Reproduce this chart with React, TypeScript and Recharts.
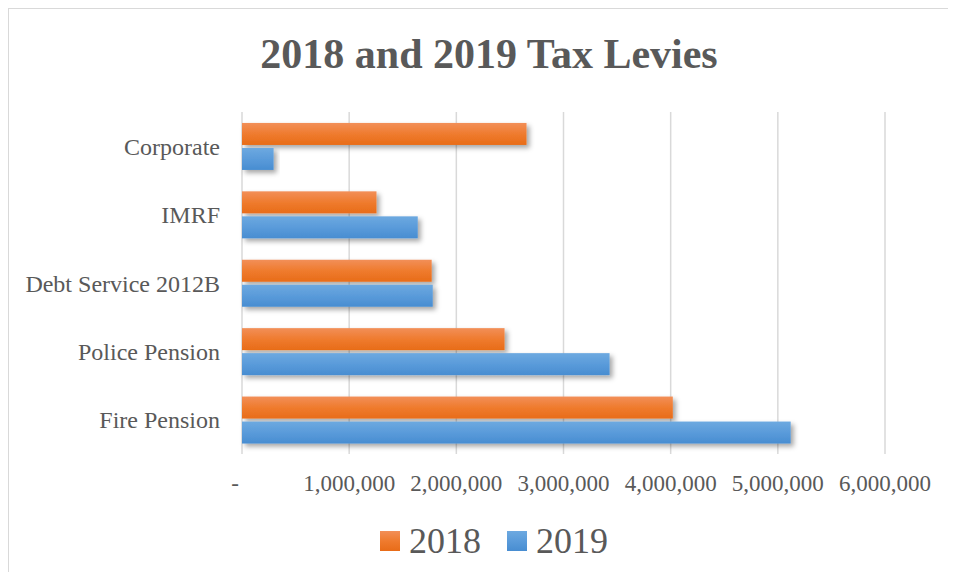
import React from "react";
import { BarChart, Bar, XAxis, YAxis, CartesianGrid, Legend } from "recharts";

const categories = ["Corporate", "IMRF", "Debt Service 2012B", "Police Pension", "Fire Pension"];
const levy2018 = [2655000, 1255000, 1770000, 2450000, 4020000];
const levy2019 = [295000, 1640000, 1780000, 3430000, 5120000];
const xTicks = [0, 1000000, 2000000, 3000000, 4000000, 5000000, 6000000];
const seriesNames = ["2018", "2019"];
const title = "2018 and 2019 Tax Levies";

const data = categories.map((name, i) => ({
  name,
  y2018: levy2018[i],
  y2019: levy2019[i],
}));

const FONT = "'Liberation Serif', 'Times New Roman', serif";
const TEXT = "#595959";

const fmt = (v: number) => (v === 0 ? "-" : v.toLocaleString("en-US"));

const XTick = (props: any) => {
  const { x, y, payload } = props;
  const v = payload.value as number;
  return (
    <text
      x={v === 0 ? x - 7 : x}
      y={y}
      dy="0.71em"
      textAnchor="middle"
      fill={TEXT}
      fontSize={23}
      fontFamily={FONT}
    >
      {fmt(v)}
    </text>
  );
};

const BarShape = (props: any) => {
  const { x, y, width, height, fill } = props;
  if (!width || width <= 0) return null;
  return <rect x={x} y={y} width={width} height={height} fill={fill} filter="url(#barShadow)" />;
};

const LegendContent = (props: any) => {
  const { payload } = props;
  return (
    <div style={{ display: "flex", alignItems: "center", margin: 0, padding: 0 }}>
      {(payload || []).map((entry: any, i: number) => (
        <span
          key={i}
          style={{ display: "inline-flex", alignItems: "center", marginRight: 26 }}
        >
          <svg width={20} height={20} style={{ marginRight: 9, display: "block" }}>
            <rect x={0} y={0} width={20} height={20} fill={entry.color} />
          </svg>
          <span style={{ fontSize: 36, lineHeight: "36px", color: TEXT, fontFamily: FONT }}>
            {entry.value}
          </span>
        </span>
      ))}
    </div>
  );
};

export default function App() {
  return (
    <div style={{ position: "relative", width: 940, height: 564, fontFamily: FONT }}>
      <style>{`html, body { overflow: hidden; background: #fff; }`}</style>
      <svg width={0} height={0} style={{ position: "absolute" }}>
        <defs>
          <linearGradient id="gradOrange" x1="0" y1="0" x2="0" y2="1">
            <stop offset="0%" stopColor="#F28F58" />
            <stop offset="50%" stopColor="#EF7B2E" />
            <stop offset="100%" stopColor="#E86C18" />
          </linearGradient>
          <linearGradient id="gradBlue" x1="0" y1="0" x2="0" y2="1">
            <stop offset="0%" stopColor="#6DA9E0" />
            <stop offset="50%" stopColor="#5A9BDA" />
            <stop offset="100%" stopColor="#488DD1" />
          </linearGradient>
          <filter id="barShadow" x="-10%" y="-40%" width="130%" height="220%">
            <feDropShadow dx="3" dy="3" stdDeviation="2.5" floodColor="#000" floodOpacity="0.35" />
          </filter>
        </defs>
      </svg>
      <div
        style={{
          position: "absolute",
          top: 0,
          left: 0,
          width: 980,
          height: 600,
          borderTop: "1px solid #d9d9d9",
          borderLeft: "1px solid #d9d9d9",
          boxSizing: "border-box",
          pointerEvents: "none",
        }}
      />
      <div
        style={{
          position: "absolute",
          top: 25,
          left: 0,
          width: 962,
          textAlign: "center",
          fontSize: 42,
          lineHeight: "42px",
          fontWeight: "bold",
          color: TEXT,
          fontFamily: FONT,
        }}
      >
        {title}
      </div>
      <BarChart
        width={940}
        height={564}
        data={data}
        layout="vertical"
        margin={{ top: 104, right: 63, bottom: 78, left: 0 }}
        barCategoryGap="16%"
        barGap={3}
      >
        <CartesianGrid horizontal={false} stroke="#d9d9d9" strokeWidth={1.5} />
        <XAxis
          type="number"
          domain={[0, 6000000]}
          ticks={xTicks}
          axisLine={false}
          tickLine={false}
          tickSize={0}
          tickMargin={21}
          height={40}
          tick={<XTick />}
          interval={0}
        />
        <YAxis
          type="category"
          dataKey="name"
          width={234}
          axisLine={false}
          tickLine={false}
          tickSize={0}
          tickMargin={22}
          tick={{ fill: TEXT, fontSize: 24, fontFamily: FONT }}
          interval={0}
        />
        <Legend
          layout="horizontal"
          verticalAlign="middle"
          align="center"
          content={<LegendContent />}
          wrapperStyle={{ top: 515, left: 372, width: 320, height: 40 }}
        />
        <Bar
          dataKey="y2018"
          name={seriesNames[0]}
          fill="url(#gradOrange)"
          shape={<BarShape />}
          isAnimationActive={false}
        />
        <Bar
          dataKey="y2019"
          name={seriesNames[1]}
          fill="url(#gradBlue)"
          shape={<BarShape />}
          isAnimationActive={false}
        />
      </BarChart>
    </div>
  );
}
